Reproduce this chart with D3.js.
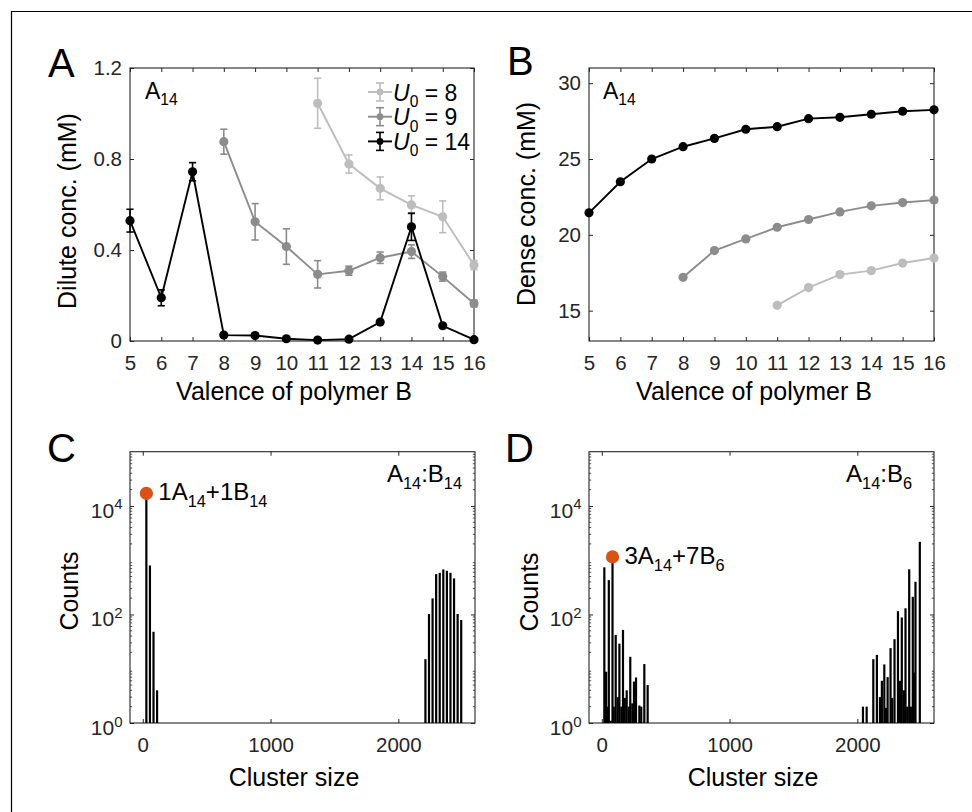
<!DOCTYPE html>
<html><head><meta charset="utf-8">
<script src="https://cdn.jsdelivr.net/npm/d3@7"></script>
<style>
body{margin:0;background:#fff}
svg{display:block;font-family:"Liberation Sans",Arial,Helvetica,sans-serif}
</style></head><body>
<svg id="fig" width="972" height="812"></svg>
<script>
// ---- Phase-separation data: polymer A14 mixed with polymer B of varying valence ----
const valenceU8  = [11, 12, 13, 14, 15, 16];
const valenceU9  = [8, 9, 10, 11, 12, 13, 14, 15, 16];
const valenceU14 = [5, 6, 7, 8, 9, 10, 11, 12, 13, 14, 15, 16];

// dilute-phase concentration (mM) with error-bar half widths
const diluteU8     = [1.045, 0.778, 0.671, 0.598, 0.546, 0.334];
const diluteErrU8  = [0.11, 0.04, 0.05, 0.04, 0.07, 0.02];
const diluteU9     = [0.876, 0.524, 0.415, 0.293, 0.309, 0.366, 0.393, 0.283, 0.165];
const diluteErrU9  = [0.055, 0.08, 0.078, 0.06, 0.02, 0.025, 0.03, 0.02, 0.015];
const diluteU14    = [0.529, 0.19, 0.744, 0.026, 0.024, 0.01, 0.004, 0.008, 0.083, 0.502, 0.067, 0.006];
const diluteErrU14 = [0.05, 0.035, 0.04, 0.006, 0.006, 0.005, 0.004, 0.005, 0.006, 0.06, 0.006, 0.004];

// dense-phase concentration (mM)
const denseU8  = [15.35, 16.52, 17.38, 17.64, 18.14, 18.47];
const denseU9  = [17.2, 18.96, 19.73, 20.5, 21.01, 21.51, 21.91, 22.13, 22.29];
const denseU14 = [21.45, 23.5, 25.0, 25.81, 26.36, 26.96, 27.13, 27.66, 27.75, 27.95, 28.15, 28.24];

const seriesNames  = ["8", "9", "14"];
const seriesColors = ["#bdbdbd", "#8c8c8c", "#000000"];

// tick values and labels
const valenceTicks = [5, 6, 7, 8, 9, 10, 11, 12, 13, 14, 15, 16];
const diluteTicks  = [0, 0.4, 0.8, 1.2];
const diluteLabels = ["0", "0.4", "0.8", "1.2"];
const denseTicks   = [15, 20, 25, 30];
const sizeTicks    = [0, 1000, 2000];
const countExps    = [0, 2, 4];

// cluster-size histograms (cluster size, counts)
const sizeAB14  = [28, 56, 84, 112, 2212, 2240, 2268, 2296, 2324, 2352, 2380, 2408, 2436, 2464, 2492];
const countAB14 = [17000, 800, 48, 4, 15, 102, 198, 555, 586, 677, 638, 586, 462, 102, 79];
const sizeAB6   = [20, 34, 44, 55, 70, 84, 94, 109, 125, 138, 153, 166, 180, 195, 211, 223, 239, 252, 268, 294, 309, 333, 359,
                   2044, 2073, 2125, 2153, 2177, 2192, 2211, 2224, 2237, 2260, 2273, 2291, 2318, 2334, 2348, 2364, 2377, 2391, 2406, 2419, 2434, 2442, 2455, 2489];
const countAB6  = [740, 8.8, 2, 430, 1.1, 1150, 2, 42, 3, 29, 2, 52, 2.9, 4, 2, 16.6, 2.3, 5.8, 6.9, 2.1, 2, 12.2, 5,
                   2, 2, 15, 18, 3, 6, 12, 1.9, 7, 24, 2.9, 35, 115, 6, 88, 4, 130, 2, 680, 2, 212, 8.5, 400, 2180];

// most populated cluster highlighted in each histogram
const peakC = {size: 28, count: 17000};
const peakD = {size: 84, count: 1150};

const svg = d3.select("#fig");
const AX = "#262626";
const TICK = 4;

// outer figure frame
svg.append("path").attr("d", "M11.5,812V11.5H972").attr("fill", "none").attr("stroke", "#000").attr("stroke-width", 1.2);

function styleAxis(g, fs) {
  g.select(".domain").remove();
  g.selectAll(".tick line").attr("stroke", AX).attr("stroke-width", 1);
  g.selectAll(".tick text").attr("fill", AX).attr("font-size", fs).attr("font-family", "Liberation Sans, Arial, sans-serif");
}

function box(x, y) {
  const [x0, x1] = x.range(), [y1, y0] = y.range();
  svg.append("rect").attr("x", x0).attr("y", y0).attr("width", x1 - x0).attr("height", y1 - y0)
    .attr("fill", "none").attr("stroke", AX).attr("stroke-width", 1.1);
}

// axes with inward ticks on all four sides
function axes(x, y, xt, yt, yfmt, xfmt) {
  const [x0, x1] = x.range(), [y1, y0] = y.range();
  const gb = svg.append("g").attr("transform", `translate(0,${y1})`)
    .call(d3.axisBottom(x).tickValues(xt).tickSizeInner(-TICK).tickSizeOuter(0).tickPadding(14.5).tickFormat(xfmt || d3.format("d")));
  styleAxis(gb, 20.5);
  const gt = svg.append("g").attr("transform", `translate(0,${y0})`)
    .call(d3.axisTop(x).tickValues(xt).tickSizeInner(-TICK).tickSizeOuter(0).tickFormat(""));
  styleAxis(gt, 20);
  const gl = svg.append("g").attr("transform", `translate(${x0},0)`)
    .call(d3.axisLeft(y).tickValues(yt).tickSizeInner(-TICK).tickSizeOuter(0).tickPadding(8).tickFormat(yfmt));
  styleAxis(gl, 20.5);
  const gr = svg.append("g").attr("transform", `translate(${x1},0)`)
    .call(d3.axisRight(y).tickValues(yt).tickSizeInner(-TICK).tickSizeOuter(0).tickFormat(""));
  styleAxis(gr, 20);
  box(x, y);
}

function panelLetter(t, x, y) {
  svg.append("text").attr("x", x).attr("y", y).attr("font-size", 40).attr("fill", "#000").text(t);
}
function xLabel(t, cx, y) {
  svg.append("text").attr("x", cx).attr("y", y).attr("text-anchor", "middle").attr("font-size", 25).attr("fill", "#000").text(t);
}
function yLabel(t, x, cy) {
  svg.append("text").attr("transform", `translate(${x},${cy}) rotate(-90)`).attr("text-anchor", "middle")
    .attr("font-size", 25).attr("fill", "#000").text(t);
}
// text built of [string, isSubscript, italic] parts
function richText(parts, x, y, fs, anchor) {
  const t = svg.append("text").attr("x", x).attr("y", y).attr("font-size", fs).attr("fill", "#000")
    .attr("text-anchor", anchor || "start");
  let sub = false;
  parts.forEach(([s, isSub, italic]) => {
    const sp = t.append("tspan").text(s);
    if (isSub && !sub) sp.attr("dy", fs * 0.28);
    if (!isSub && sub) sp.attr("dy", -fs * 0.28);
    if (isSub) sp.attr("font-size", fs * 0.68);
    if (italic) sp.attr("font-style", "italic");
    sub = isSub;
  });
  return t;
}

// ================= Panel A: dilute concentration =================
const xA = d3.scaleLinear().domain([5, 16]).range([130, 474]);
const yA = d3.scaleLinear().domain([0, 1.2]).range([341, 68]);
axes(xA, yA, valenceTicks, diluteTicks, (d, i) => diluteLabels[i]);

const diluteSeries = [
  {v: valenceU8, y: diluteU8, e: diluteErrU8},
  {v: valenceU9, y: diluteU9, e: diluteErrU9},
  {v: valenceU14, y: diluteU14, e: diluteErrU14}
];
const lineA = d3.line().x(d => xA(d[0])).y(d => yA(d[1]));
diluteSeries.forEach((s, k) => {
  const col = seriesColors[k];
  const pts = s.v.map((v, i) => [v, s.y[i], s.e[i]]);
  const g = svg.append("g");
  g.append("path").datum(pts).attr("d", lineA).attr("fill", "none").attr("stroke", col).attr("stroke-width", 1.9);
  pts.forEach(p => {
    const cx = xA(p[0]), yt = yA(p[1] + p[2]), yb = yA(Math.max(0, p[1] - p[2]));
    g.append("line").attr("x1", cx).attr("x2", cx).attr("y1", yt).attr("y2", yb).attr("stroke", col).attr("stroke-width", 1.6);
    [yt, yb].forEach(yy => g.append("line").attr("x1", cx - 3.6).attr("x2", cx + 3.6).attr("y1", yy).attr("y2", yy)
      .attr("stroke", col).attr("stroke-width", 1.6));
  });
  g.selectAll("circle").data(pts).join("circle").attr("cx", d => xA(d[0])).attr("cy", d => yA(d[1]))
    .attr("r", 4.6).attr("fill", col);
});

// legend
seriesNames.forEach((n, k) => {
  const col = seriesColors[k], ry = 92 + k * 24.7;
  const g = svg.append("g");
  g.append("line").attr("x1", 368).attr("x2", 392).attr("y1", ry).attr("y2", ry).attr("stroke", col).attr("stroke-width", 1.9);
  g.append("line").attr("x1", 380).attr("x2", 380).attr("y1", ry - 9).attr("y2", ry + 9).attr("stroke", col).attr("stroke-width", 1.6);
  [ry - 9, ry + 9].forEach(yy => g.append("line").attr("x1", 376).attr("x2", 384).attr("y1", yy).attr("y2", yy)
    .attr("stroke", col).attr("stroke-width", 1.6));
  g.append("circle").attr("cx", 380).attr("cy", ry).attr("r", 3.4).attr("fill", col);
  richText([["U", false, true], ["0", true], [" = " + n, false]], 393, ry + 8.5, 23);
});

richText([["A", false], ["14", true]], 145, 99, 23);
panelLetter("A", 48, 77);
xLabel("Valence of polymer B", 294, 400);
yLabel("Dilute conc. (mM)", 76, 211);

// ================= Panel B: dense concentration =================
const xB = d3.scaleLinear().domain([5, 16]).range([589, 934]);
const yB = d3.scaleLinear().domain([13, 31]).range([341, 68]);
axes(xB, yB, valenceTicks, denseTicks, d3.format("d"));

const denseSeries = [
  {v: valenceU8, y: denseU8},
  {v: valenceU9, y: denseU9},
  {v: valenceU14, y: denseU14}
];
const lineB = d3.line().x(d => xB(d[0])).y(d => yB(d[1]));
denseSeries.forEach((s, k) => {
  const col = seriesColors[k];
  const pts = s.v.map((v, i) => [v, s.y[i]]);
  const g = svg.append("g");
  g.append("path").datum(pts).attr("d", lineB).attr("fill", "none").attr("stroke", col).attr("stroke-width", 1.9);
  g.selectAll("circle").data(pts).join("circle").attr("cx", d => xB(d[0])).attr("cy", d => yB(d[1]))
    .attr("r", 4.6).attr("fill", col);
});
richText([["A", false], ["14", true]], 603, 99, 23);
panelLetter("B", 507, 75);
xLabel("Valence of polymer B", 754, 400);
yLabel("Dense conc. (mM)", 535, 204);

// ================= Panels C and D: cluster-size histograms =================
function histogram(x, y, sizes, counts, peak, peakParts, tagParts, tagX) {
  const [x0, x1] = x.range(), [y1, y0] = y.range();
  const yt = countExps.map(e => Math.pow(10, e));
  axes(x, y, sizeTicks, yt, () => "", d3.format("d"));
  // minor log ticks
  const minors = [];
  for (let e = 0; e < 5; e++) for (let m = 2; m <= 9; m++) minors.push(m * Math.pow(10, e));
  [[x0, 1], [x1, -1]].forEach(([xx, dir]) => {
    svg.append("g").selectAll("line").data(minors).join("line")
      .attr("x1", xx).attr("x2", xx + dir * 2.2).attr("y1", d => y(d)).attr("y2", d => y(d))
      .attr("stroke", AX).attr("stroke-width", 0.8);
  });
  // power-of-ten tick labels
  countExps.forEach(e => {
    const t = svg.append("text").attr("x", x0 - 7.5).attr("y", y(Math.pow(10, e)) + 12)
      .attr("text-anchor", "end").attr("font-size", 21).attr("fill", AX);
    t.append("tspan").text("10");
    t.append("tspan").attr("dy", -8.5).attr("font-size", 15).text(String(e));
  });
  // bars from the baseline at 10^0
  svg.append("g").selectAll("rect").data(sizes.map((s, i) => [s, counts[i]])).join("rect")
    .attr("x", d => x(d[0]) - 1.1).attr("width", 2.2)
    .attr("y", d => y(d[1])).attr("height", d => y(1) - y(d[1])).attr("fill", "#000");
  // highlighted cluster
  const px = x(peak.size), py = y(peak.count);
  svg.append("circle").attr("cx", px).attr("cy", py).attr("r", 6.6).attr("fill", "#d95319");
  richText(peakParts, px + 12, py + 7, 24);
  richText(tagParts, tagX, 482, 24, "end");
  xLabel("Cluster size", (x0 + x1) / 2 - 8.5, 786);
}

const xC = d3.scaleLinear().domain([-100, 2600]).range([130, 475]);
const yC = d3.scaleLog().domain([1, 1e5]).range([723, 451.7]);
histogram(xC, yC, sizeAB14, countAB14, peakC,
  [["1A", false], ["14", true], ["+1B", false], ["14", true]],
  [["A", false], ["14", true], [":B", false], ["14", true]], 462);
panelLetter("C", 47, 462);
yLabel("Counts", 78, 591);

const xD = d3.scaleLinear().domain([-100, 2600]).range([589, 934]);
const yD = d3.scaleLog().domain([1, 1e5]).range([723, 451.7]);
histogram(xD, yD, sizeAB6, countAB6, peakD,
  [["3A", false], ["14", true], ["+7B", false], ["6", true]],
  [["A", false], ["14", true], [":B", false], ["6", true]], 912);
panelLetter("D", 505, 462);
yLabel("Counts", 538, 592);
</script>
</body></html>
